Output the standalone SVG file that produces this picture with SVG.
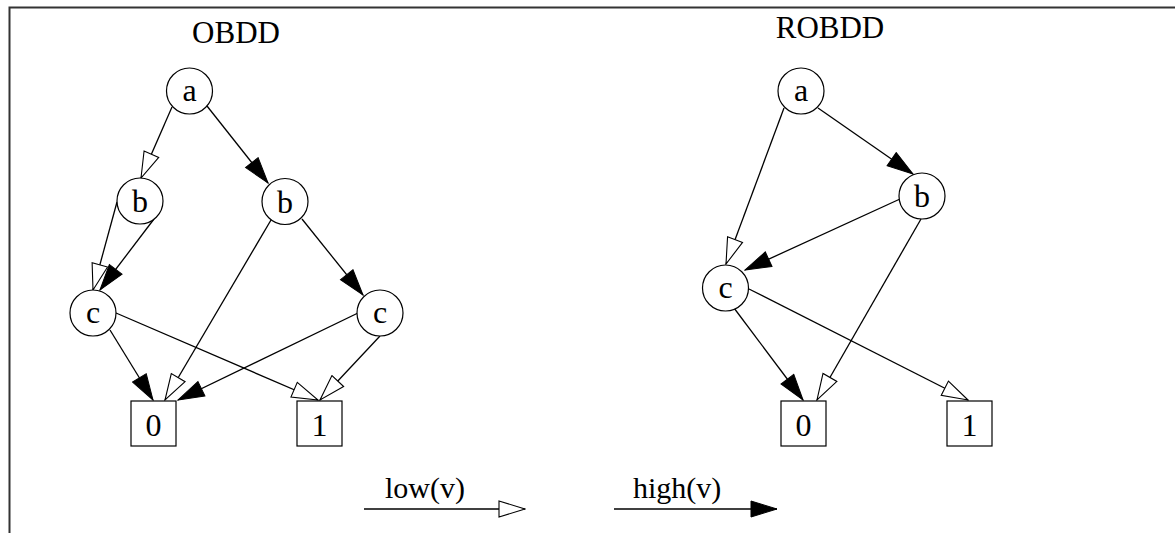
<svg xmlns="http://www.w3.org/2000/svg" width="1175" height="533" viewBox="0 0 1175 533">
  <defs>
    <style>
      .frame { fill: none; stroke: #333; stroke-width: 2; }
      .node circle, .node rect { fill: #fff; stroke: #000; stroke-width: 1.2; }
      text { font-family: "Liberation Serif", "Times New Roman", serif; font-size: 30px; fill: #000; }
      .title { font-size: 31px; text-anchor: middle; }
      .node text { font-size: 32px; text-anchor: middle; }
      .low { fill: none; stroke: #000; stroke-width: 1.3; marker-end: url(#openHead); }
      .high { fill: none; stroke: #000; stroke-width: 1.3; marker-end: url(#solidHead); }
    </style>
    <!-- low(v) edges: hollow arrowhead -->
    <marker id="openHead" markerUnits="userSpaceOnUse" viewBox="0 0 28 18" markerWidth="28" markerHeight="18" refX="27" refY="9" orient="auto">
      <path d="M1,1 L27,9 L1,17 Z" fill="#fff" stroke="#000" stroke-width="1.1"/>
    </marker>
    <!-- high(v) edges: filled arrowhead -->
    <marker id="solidHead" markerUnits="userSpaceOnUse" viewBox="0 0 28 18" markerWidth="28" markerHeight="18" refX="27" refY="9" orient="auto">
      <path d="M1,1 L27,9 L1,17 Z" fill="#000" stroke="#000" stroke-width="1"/>
    </marker>
  </defs>

  <rect width="1175" height="533" fill="#fff"/>
  <path class="frame" d="M9.5,533 L9.5,7.5 L1175,7.5"/>

  <!-- titles -->
  <text class="title" x="236" y="43">OBDD</text>
  <text class="title" x="830" y="38">ROBDD</text>

  <!-- connectors -->
  <g id="edges">
    <!-- OBDD -->
    <path class="low"  d="M172,107 L141,178"/>
    <path class="high" d="M207,106 L268,183"/>
    <path class="low"  d="M117,202 L93,290"/>
    <path class="high" d="M154,219 L100,290"/>
    <path class="low"  d="M271,220 L165,400"/>
    <path class="high" d="M302,219 L363,295"/>
    <path class="high" d="M110,330 L153,400"/>
    <path class="low"  d="M116,313 L318,400"/>
    <path class="high" d="M358,313 L178,400"/>
    <path class="low"  d="M380,336 L320,400"/>
    <!-- ROBDD -->
    <path class="low"  d="M784,108 L726,264"/>
    <path class="high" d="M818,108 L913,174"/>
    <path class="high" d="M900,199 L745,270"/>
    <path class="low"  d="M921,219 L817,400"/>
    <path class="high" d="M734,308 L803,400"/>
    <path class="low"  d="M749,289 L968,400"/>
  </g>

  <!-- OBDD nodes -->
  <g id="obdd-a" class="node"><circle cx="189.5" cy="91" r="23"/><text x="189.5" y="101">a</text></g>
  <g id="obdd-b-low" class="node"><circle cx="140" cy="201" r="23"/><text x="140" y="212">b</text></g>
  <g id="obdd-b-high" class="node"><circle cx="285" cy="201.5" r="23"/><text x="285" y="212.5">b</text></g>
  <g id="obdd-c-left" class="node"><circle cx="93" cy="313" r="23"/><text x="93" y="323">c</text></g>
  <g id="obdd-c-right" class="node"><circle cx="380" cy="313" r="23"/><text x="380" y="323">c</text></g>
  <g id="obdd-zero" class="node"><rect x="131" y="401" width="45" height="45"/><text x="153.5" y="435.5">0</text></g>
  <g id="obdd-one" class="node"><rect x="297" y="401" width="45" height="45"/><text x="319.5" y="435.5">1</text></g>

  <!-- ROBDD nodes -->
  <g id="robdd-a" class="node"><circle cx="801" cy="91" r="23"/><text x="801" y="101">a</text></g>
  <g id="robdd-b" class="node"><circle cx="922" cy="196" r="23"/><text x="922" y="207">b</text></g>
  <g id="robdd-c" class="node"><circle cx="725.5" cy="288" r="23"/><text x="725.5" y="298">c</text></g>
  <g id="robdd-zero" class="node"><rect x="781" y="401" width="45" height="45"/><text x="803.5" y="435.5">0</text></g>
  <g id="robdd-one" class="node"><rect x="947" y="401" width="45" height="45"/><text x="969.5" y="435.5">1</text></g>

  <!-- legend -->
  <g id="legend">
    <text x="385" y="498">low(v)</text>
    <path class="low" d="M364,509 L525,509"/>
    <text x="633" y="498">high(v)</text>
    <path class="high" d="M614,509 L777,509"/>
  </g>
</svg>
